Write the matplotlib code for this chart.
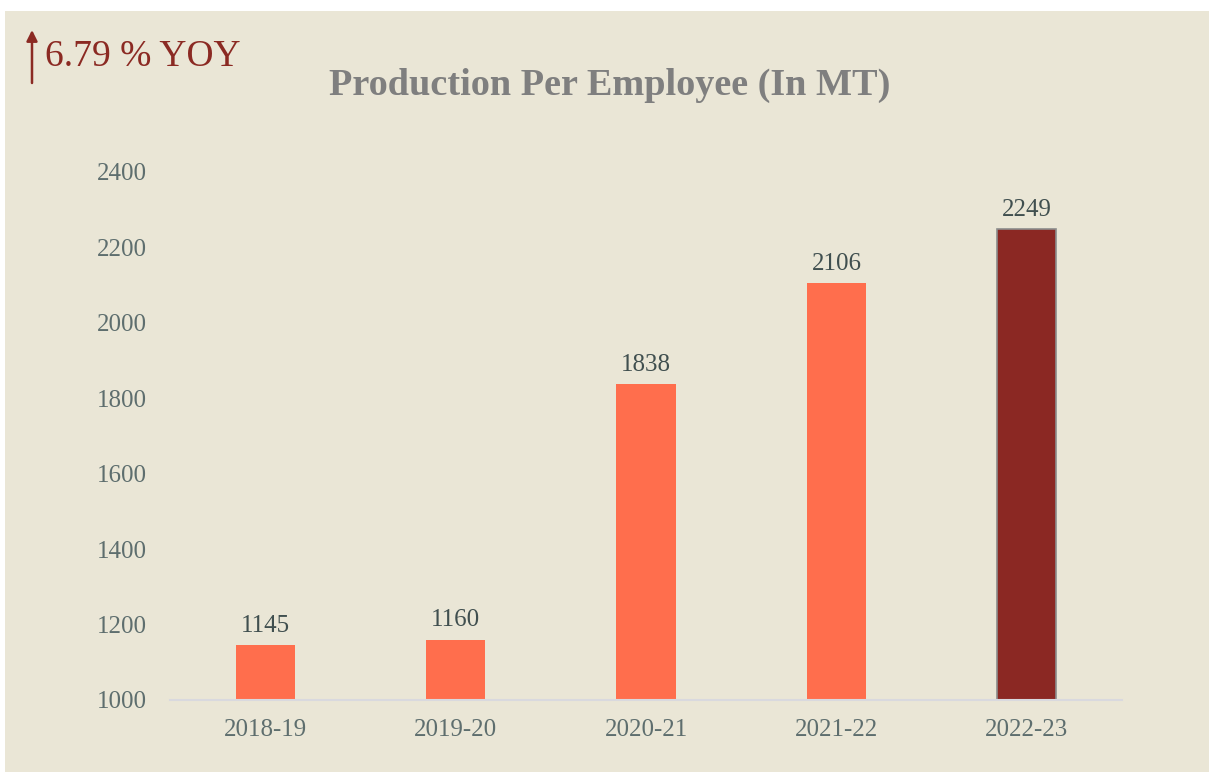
import matplotlib.pyplot as plt
from matplotlib.patches import Rectangle

# dane
years = ['2018-19', '2019-20', '2020-21', '2021-22', '2022-23']
production = [1145, 1160, 1838, 2106, 2249]
bar_colors = ['#FF6E4D', '#FF6E4D', '#FF6E4D', '#FF6E4D', '#8B2823']
yticks = [1000, 1200, 1400, 1600, 1800, 2000, 2200, 2400]

plt.rcParams['font.family'] = ['Liberation Serif', 'DejaVu Serif']

fig = plt.figure(figsize=(12.09, 7.72), dpi=100)
fig.patch.set_facecolor('white')
bg = '#EAE6D6'
fig.patches.append(Rectangle((5 / 1209, 0), 1 - 5 / 1209, 761 / 772,
                             transform=fig.transFigure, facecolor=bg,
                             edgecolor='none', zorder=-10))

ax = fig.add_axes([170 / 1209, 72 / 772, 952 / 1209, 528 / 772])
ax.set_facecolor('none')

x = range(len(years))
bars = ax.bar(x, production, width=0.31, bottom=0, color=bar_colors,
              edgecolor=['none'] * 4 + ['#8C8C8C'], linewidth=1.2, zorder=2)

for xi, v in zip(x, production):
    ax.text(xi, v + 22, str(v), ha='center', va='bottom',
            fontsize=18, color='#404F4F')

ax.set_ylim(1000, 2400)
ax.set_xlim(-0.5, len(years) - 0.5)
ax.set_yticks(yticks)
ax.set_xticks(list(x))
ax.set_xticklabels(years)
ax.tick_params(axis='both', length=0, labelsize=18, labelcolor='#5E6E6E')
ax.tick_params(axis='y', pad=17)
ax.tick_params(axis='x', pad=14)

for s in ['top', 'right', 'left']:
    ax.spines[s].set_visible(False)
ax.spines['bottom'].set_color('#D9D9DE')
ax.spines['bottom'].set_linewidth(1.5)

fig.text(610 / 1209, 1 - 85 / 772, 'Production Per Employee (In MT)',
         ha='center', va='center', fontsize=27.5, fontweight='bold',
         color='#7F7F7F')

# wskaznik YOY
fig.text(45 / 1209, 1 - 57 / 772, '6.79 % YOY', ha='left', va='center',
         fontsize=27, color='#8B2A23')
fig.add_artist(plt.Annotation('', xy=(32 / 1209, 1 - 30 / 772),
                              xytext=(32 / 1209, 1 - 83 / 772),
                              xycoords='figure fraction',
                              textcoords='figure fraction',
                              arrowprops=dict(arrowstyle='-|>', color='#8B2A23',
                                              lw=1.8, mutation_scale=16,
                                              shrinkA=0, shrinkB=0)))

fig.savefig('out.png', dpi=100, facecolor=fig.get_facecolor())
